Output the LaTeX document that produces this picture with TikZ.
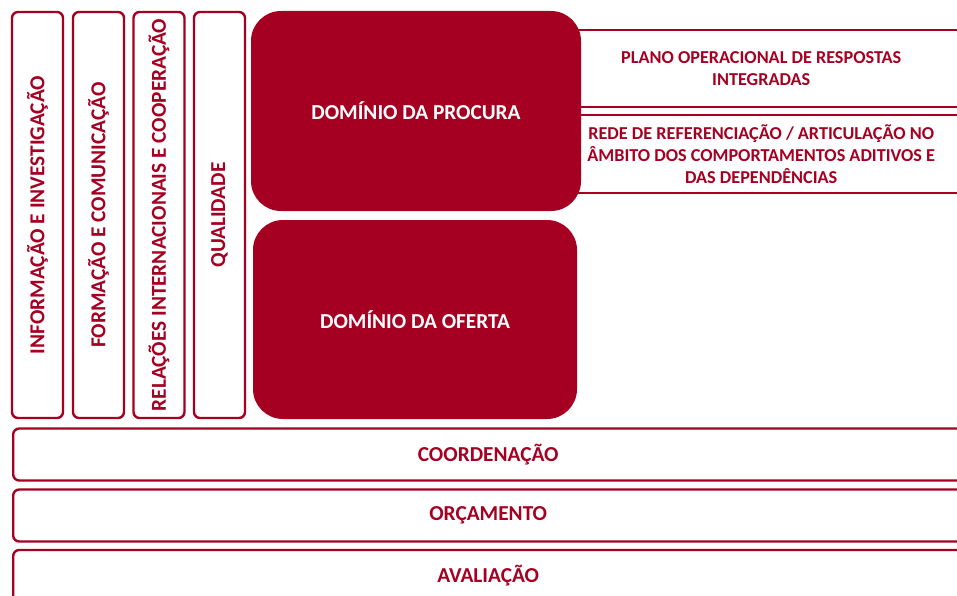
\documentclass[tikz,border=0pt]{standalone}
\usepackage{fontspec}
\setmainfont{Carlito}
\definecolor{drk}{HTML}{A50021}

\begin{document}
\begin{tikzpicture}[x=1pt,y=-1pt,
    box/.style={draw=drk, line width=2.4pt, rounded corners=6pt, text=drk,
      font=\bfseries\fontsize{21.3}{23}\selectfont, align=center, inner sep=0pt},
    side/.style={box, draw=drk, rotate=90, minimum width=406pt, minimum height=51pt},
    band/.style={box, minimum width=950pt, minimum height=52pt, anchor=west},
    note/.style={box, rounded corners=0pt, anchor=west, minimum width=410pt,
      font=\bfseries\fontsize{18.2}{22.3}\selectfont},
    dom/.style={fill=drk, rounded corners=30pt, text=white, inner sep=0pt,
      font=\bfseries\fontsize{21.3}{23}\selectfont}]
  \useasboundingbox (0,0) rectangle (957,596);
  % colunas
  \node[side] (info) at (37.5,215) {INFORMAÇÃO E INVESTIGAÇÃO};
  \node[side] (form) at (98.5,215) {FORMAÇÃO E COMUNICAÇÃO};
  \node[side] (rel) at (159,215) {RELAÇÕES INTERNACIONAIS E COOPERAÇÃO};
  \node[side] (qual) at (219.5,215) {QUALIDADE};
  % notas à direita
  \node[note, minimum height=77pt] (plano) at (555,68.5) {PLANO OPERACIONAL DE RESPOSTAS\\INTEGRADAS};
  \node[note, minimum height=78pt] (rede) at (555,154) {REDE DE REFERENCIAÇÃO / ARTICULAÇÃO NO\\ÂMBITO DOS COMPORTAMENTOS ADITIVOS E\\DAS DEPENDÊNCIAS};
  % dominios
  \node[dom, minimum width=330pt, minimum height=200pt] (procura) at (416,111) {DOMÍNIO DA PROCURA};
  \node[dom, minimum width=324pt, minimum height=199pt] (oferta) at (415,319.5) {DOMÍNIO DA OFERTA};
  % faixas
  \node[band] (coord) at (12,454.5) {COORDENAÇÃO};
  \node[band] (orc) at (12,515.5) {ORÇAMENTO};
  \node[band] (aval) at (12,576) {AVALIAÇÃO};
\end{tikzpicture}
\end{document}
